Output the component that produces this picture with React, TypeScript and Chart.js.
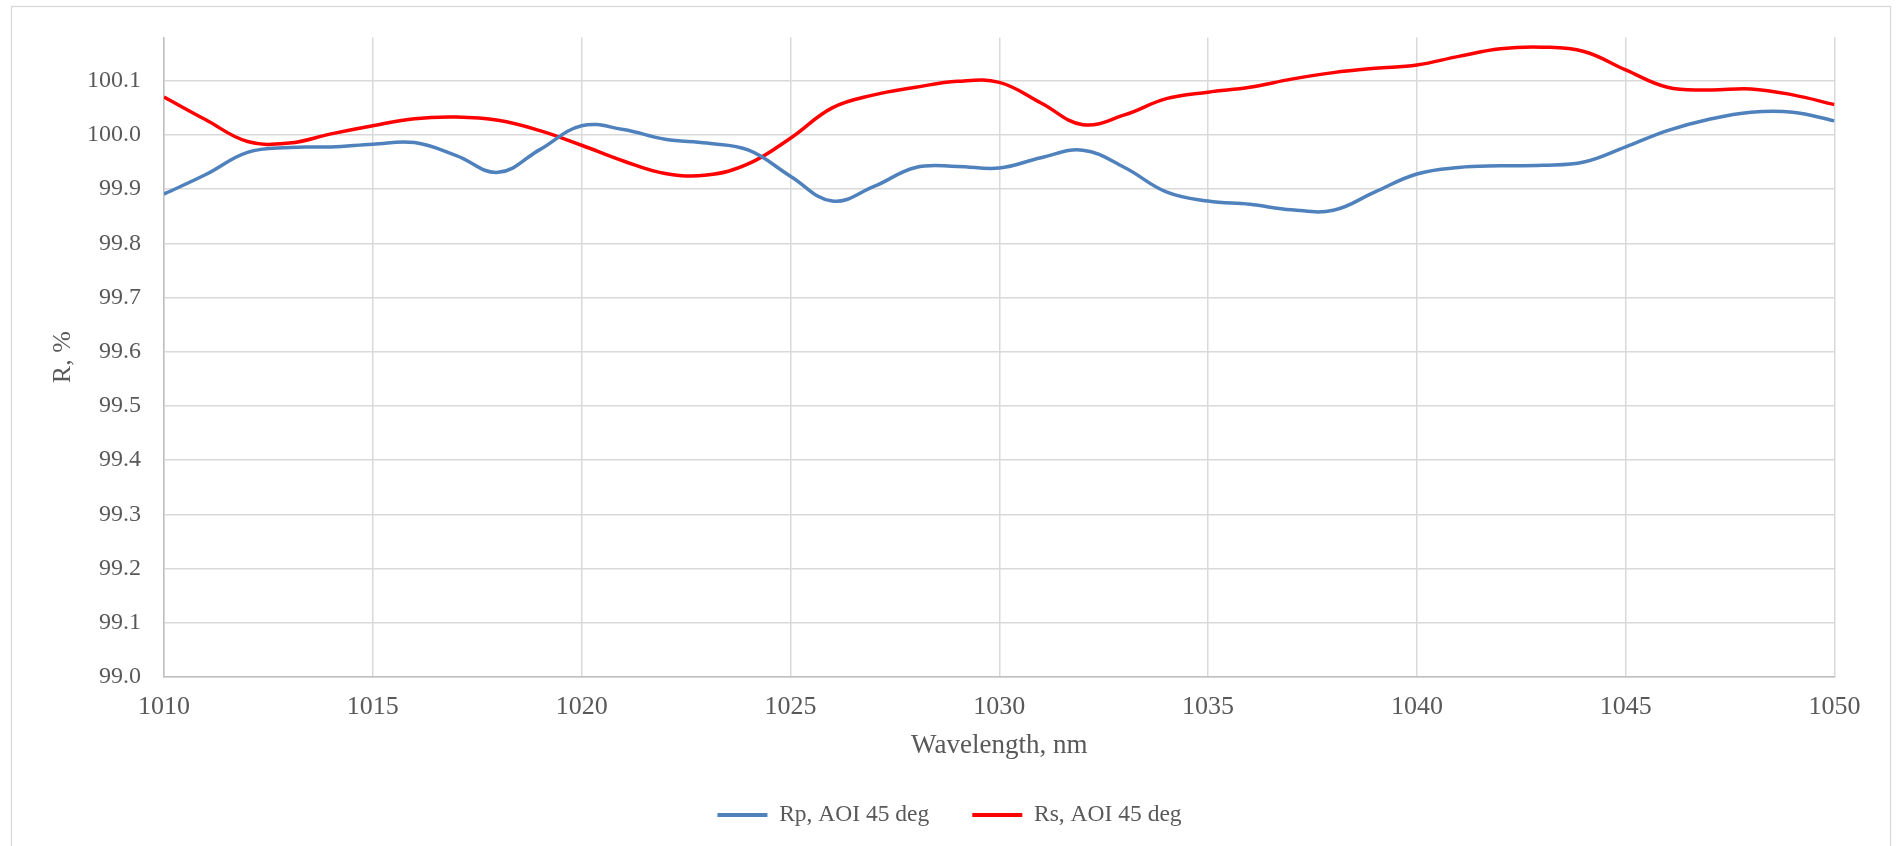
import React, { useEffect, useRef } from "react";
import { Chart, registerables } from "chart.js";

Chart.register(...registerables);

const WAVELENGTH = [
  1010, 1011, 1012, 1013, 1014, 1015, 1016, 1017, 1018, 1019,
  1020, 1021, 1022, 1023, 1024, 1025, 1026, 1027, 1028, 1029,
  1030, 1031, 1032, 1033, 1034, 1035, 1036, 1037, 1038, 1039,
  1040, 1041, 1042, 1043, 1044, 1045, 1046, 1047, 1048, 1049, 1050,
];

const RP = [
  99.891, 99.927, 99.968, 99.977, 99.978, 99.983, 99.986, 99.962, 99.931, 99.973,
  100.017, 100.010, 99.992, 99.985, 99.972, 99.924, 99.878, 99.905, 99.940, 99.942,
  99.939, 99.958, 99.972, 99.940, 99.895, 99.878, 99.872, 99.862, 99.861, 99.895,
  99.928, 99.940, 99.943, 99.944, 99.950, 99.978, 100.008, 100.029, 100.042, 100.042, 100.026,
];

const RS = [
  100.070, 100.028, 99.988, 99.985, 100.002, 100.017, 100.030, 100.033, 100.027, 100.008,
  99.981, 99.952, 99.929, 99.926, 99.947, 99.994, 100.050, 100.074, 100.088, 100.099,
  100.097, 100.059, 100.019, 100.037, 100.067, 100.079, 100.088, 100.103, 100.115, 100.123,
  100.129, 100.145, 100.159, 100.162, 100.154, 100.120, 100.088, 100.083, 100.085, 100.074, 100.056,
];

const X_TICKS = [1010, 1015, 1020, 1025, 1030, 1035, 1040, 1045, 1050];
const Y_TICKS = [99.0, 99.1, 99.2, 99.3, 99.4, 99.5, 99.6, 99.7, 99.8, 99.9, 100.0, 100.1];

const SERIES_LABELS = ["Rp, AOI 45 deg", "Rs, AOI 45 deg"];
const SERIES_COLORS = ["#4F81BD", "#FF0000"];

const FONT = "'Liberation Serif', 'Times New Roman', serif";
const TEXT = "#595959";

const framePlugin = {
  id: "frame",
  beforeDraw(chart: any) {
    const ctx = chart.ctx;
    ctx.save();
    ctx.fillStyle = "#ffffff";
    ctx.fillRect(0, 0, chart.width, chart.height);
    ctx.strokeStyle = "#d9d9d9";
    ctx.lineWidth = 1.3;
    ctx.strokeRect(11.5, 6.5, 1879, 900);
    ctx.restore();
  },
};

export default function App() {
  const ref = useRef<HTMLCanvasElement | null>(null);

  useEffect(() => {
    if (!ref.current) return;
    const chart = new Chart(ref.current, {
      type: "line",
      data: {
        datasets: [
          {
            label: SERIES_LABELS[0],
            data: WAVELENGTH.map((x, i) => ({ x, y: RP[i] })),
            borderColor: SERIES_COLORS[0],
            backgroundColor: SERIES_COLORS[0],
            borderWidth: 3.5,
            pointRadius: 0,
            tension: 0.4,
            fill: false,
          },
          {
            label: SERIES_LABELS[1],
            data: WAVELENGTH.map((x, i) => ({ x, y: RS[i] })),
            borderColor: SERIES_COLORS[1],
            backgroundColor: SERIES_COLORS[1],
            borderWidth: 3.5,
            pointRadius: 0,
            tension: 0.4,
            fill: false,
          },
        ],
      },
      options: {
        animation: false,
        responsive: false,
        layout: { padding: { top: 36, left: 0, right: 0, bottom: 9.25 } },
        scales: {
          x: {
            type: "linear",
            min: 1010,
            max: 1050,
            afterBuildTicks: (s: any) => {
              s.ticks = X_TICKS.map((v) => ({ value: v }));
            },
            afterFit: (s: any) => {
              s.height = 83.25;
            },
            grid: { color: "#d9d9d9", lineWidth: 1.5, drawTicks: false },
            border: { display: true, color: "#bfbfbf", width: 1.5 },
            ticks: {
              padding: 14.4,
              color: TEXT,
              font: { family: FONT, size: 26 },
              callback: (v: any) => String(v),
            },
            title: {
              display: true,
              text: "Wavelength, nm",
              color: TEXT,
              font: { family: FONT, size: 27, lineHeight: 1 },
              padding: { top: 0, bottom: 0.5 },
            },
          },
          y: {
            type: "linear",
            position: "left",
            min: 99.0,
            max: 100.18,
            afterBuildTicks: (s: any) => {
              s.ticks = Y_TICKS.map((v) => ({ value: v }));
            },
            afterFit: (s: any) => {
              s.width = 164;
            },
            grid: { color: "#d9d9d9", lineWidth: 1.5, drawTicks: false },
            border: { display: true, color: "#bfbfbf", width: 1.5 },
            ticks: {
              padding: 23,
              color: TEXT,
              font: { family: FONT, size: 24 },
              callback: (v: any) => Number(v).toFixed(1),
            },
            title: {
              display: true,
              text: "R, %",
              color: TEXT,
              font: { family: FONT, size: 26, lineHeight: 1.2 },
              padding: { top: 48, bottom: 0 },
            },
          },
          yR: {
            type: "linear",
            position: "right",
            display: true,
            grid: { display: false, drawTicks: false },
            border: { display: false },
            ticks: { display: false },
            afterFit: (s: any) => {
              s.width = 64.5;
            },
          },
        },
        plugins: {
          legend: {
            display: true,
            position: "bottom",
            labels: {
              color: TEXT,
              font: { family: FONT, size: 23.5 },
              boxWidth: 50,
              boxHeight: 4,
              padding: 43,
              generateLabels: (c: any) => {
                const items = (Chart.defaults.plugins.legend.labels as any).generateLabels(c);
                return items.map((it: any) => ({ ...it, fillStyle: it.strokeStyle, lineWidth: 0 }));
              },
            },
          },
          tooltip: { enabled: false },
        },
      },
      plugins: [framePlugin],
    } as any);
    return () => chart.destroy();
  }, []);

  return (
    <div style={{ position: "fixed", left: 0, top: 0, width: 1899, height: 846, background: "#fff" }}>
      <canvas ref={ref} width={1899} height={846} style={{ display: "block" }} />
    </div>
  );
}
